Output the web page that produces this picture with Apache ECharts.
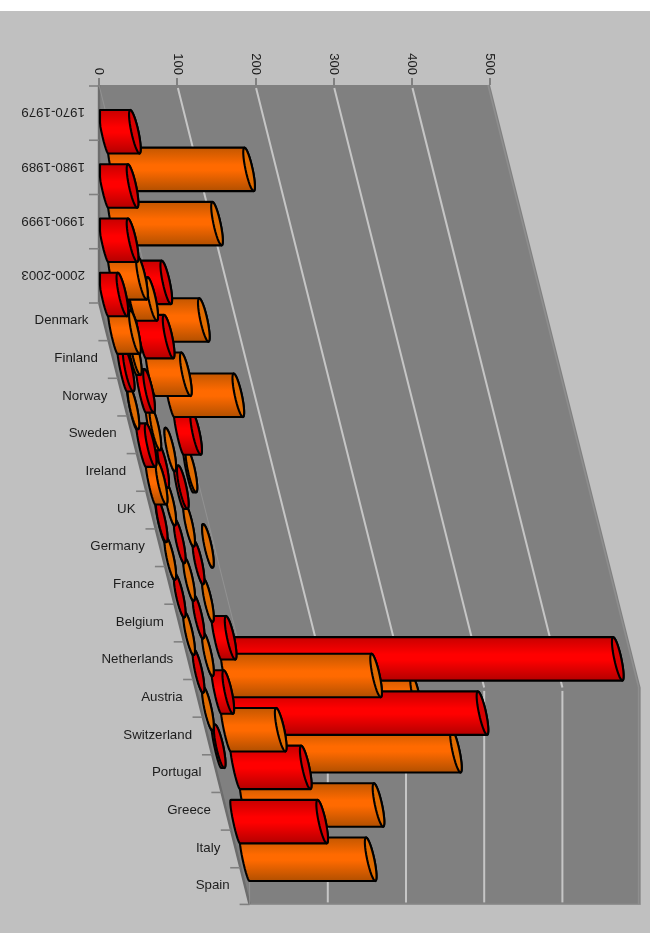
<!DOCTYPE html>
<html><head><meta charset="utf-8">
<style>html,body{margin:0;padding:0;background:#fff}#c{width:657px;height:933px}</style>
<script src="https://cdn.jsdelivr.net/npm/echarts@6/dist/echarts.min.js"></script>
</head><body><div id="c"></div>
<script>
const decades = ['1970-1979','1980-1989','1990-1999','2000-2003'];
const countries = ['Denmark','Finland','Norway','Sweden','Ireland','UK','Germany','France','Belgium','Netherlands','Austria','Switzerland','Portugal','Greece','Italy','Spain'];
const valueTicks = [0,100,200,300,400,500];
// values per country, one per decade (null = no bar)
const Denmark     = [40,37,37,24];
const Finland     = [174,133,37,28];
const Norway      = [10,8,8,8];
const Sweden      = [1,26,5,2];
const Ireland     = [32,35,10,12];
const UK          = [68,45,6,14];
const Germany     = [10,null,4,2];
const France      = [88,1,1,1];
const Belgium     = [22,5,1,1];
const Netherlands = [4,1,1,1];
const Austria     = [null,1,1,1];
const Switzerland = [1,1,1,1];
const Portugal    = [null,18,15,4];
const Greece      = [null,192,70,null];
const Italy       = [489,316,90,111];
const Spain       = [219,270,171,161];
const rows = [Denmark,Finland,Norway,Sweden,Ireland,UK,Germany,France,Belgium,Netherlands,Austria,Switzerland,Portugal,Greece,Italy,Spain];

const CSTEP=37.65, DSTEP=54.25, SKEW=0.25;
const DU=DSTEP/CSTEP, YMAX=820/CSTEP;
const rowPos=(d,c)=>d*DU+c;
function P(api,v,d,c){const p=api.coord([v,rowPos(d,c)]);return [p[0]+c*CSTEP*SKEW,p[1]];}

const barData=[];
for(let c=rows.length-1;c>=0;c--) rows[c].forEach((v,d)=>{ if(v!=null) barData.push([v,c,d]); });

const G=echarts.graphic;
const grad=(a,b,e)=>new G.LinearGradient(0,0,0,1,[{offset:0,color:a},{offset:.4,color:b},{offset:.52,color:b},{offset:1,color:e}]);
const redFill=grad('#c40000','#ff0000','#b00000'), orFill=grad('#c05600','#ff6a00','#ae4e00');

function wallItem(p,api){
  const pts=[P(api,0,0,0),P(api,500,0,0),P(api,500,0,16),P(api,500,4,16),P(api,0,4,16),P(api,0,4,0)];
  const line=(a,col,w)=>({type:'polyline',shape:{points:a},style:{fill:null,stroke:col,lineWidth:w}});
  return {type:'group',children:[
    {type:'polygon',shape:{points:pts},style:{fill:'#808080'}},
    line([P(api,0,0,0),P(api,0,4,0),P(api,0,4,16)],'#6c6c6c',2.4),
    line([P(api,0,0,0),P(api,0,0,16),P(api,0,4,16)],'#979797',0.8),
    line([[pts[1][0]-2,pts[1][1]],[pts[2][0]-2,pts[2][1]],[pts[3][0]-2,pts[3][1]]],'#8e8e8e',1.5),
    line([pts[3],pts[4]],'#919191',1.2)
  ]};
}
function gridItem(p,api){
  const v=api.value(0);
  if(v===0||v===500) return null;
  const a=P(api,v,0,0), b=P(api,v,0,16), e=P(api,v,4,16);
  const st={fill:null,stroke:'#c6c6c6',lineWidth:2};
  return {type:'group',children:[
    {type:'line',shape:{x1:a[0]+.7,y1:a[1]+3,x2:b[0],y2:b[1]},style:st},
    {type:'line',shape:{x1:b[0],y1:b[1]+3.5,x2:e[0],y2:e[1]-2},style:st}
  ]};
}
function ellipse(cx,cy,ax,ay,w,t0,t1,n){
  const o=[];for(let i=0;i<=n;i++){const t=t0+(t1-t0)*i/n;o.push([cx+ax*Math.sin(t)+w*Math.cos(t),cy+ay*Math.sin(t)]);}
  return o;
}
function barItem(p,api){
  const v=api.value(0),c=api.value(1),d=api.value(2);
  const o=P(api,0,d+25/DSTEP,c), e=P(api,v,d+25/DSTEP,c);
  const H=43.5,DX=9.2,W=3.6,PI2=Math.PI/2;
  const ax=DX/2, ay=H/2, cy=o[1]+ay, red=c%2===0;
  const minX=api.coord([0,0])[0]+1;
  const right=ellipse(e[0]+ax,cy,ax,ay,W,-PI2,PI2,18);
  const left=ellipse(o[0]+ax,cy,ax,ay,-2.2,PI2,-PI2,14).map(q=>[Math.max(q[0],minX),q[1]]);
  const cap=ellipse(e[0]+ax,cy,ax,ay,W,0,2*Math.PI,32);
  return {type:'group',children:[
    {type:'polygon',shape:{points:right.concat(left)},style:{fill:red?redFill:orFill,stroke:'#000',lineWidth:2.1,lineJoin:'round'}},
    {type:'polygon',shape:{points:cap},style:{fill:red?'#d80000':'#e06c00',stroke:'#000',lineWidth:2.1}}
  ]};
}
function catItem(p,api){
  const i=api.value(0);
  const tick=(y,x)=>({type:'line',shape:{x1:x-10,y1:y,x2:x,y2:y},style:{stroke:'#808080',lineWidth:1.6}});
  if(i<decades.length){
    const t=P(api,0,i,0), n=P(api,0,i+1,0);
    return {type:'group',children:[tick(t[1]+1,t[0]),
      {type:'text',x:t[0]-14,y:(t[1]+n[1])/2,rotation:Math.PI,originX:0,originY:0,
       style:{text:decades[i],x:0,y:0,align:'left',verticalAlign:'middle',font:'13.3px "Liberation Sans"',fill:'#1c1c1c'}}]};
  }
  const c=i-decades.length, t=P(api,0,4,c), n=P(api,0,4,c+1);
  const children=[tick(t[1]+1,t[0])];
  if(c===countries.length-1) children.push(tick(n[1],n[0]));
  children.push({type:'text',x:t[0]-10.5,y:(t[1]+n[1])/2,
      style:{text:countries[c],x:0,y:0,align:'right',verticalAlign:'middle',font:'13.3px "Liberation Sans"',fill:'#1c1c1c'}});
  return {type:'group',children};
}

const chart=echarts.init(document.getElementById('c'),null,{renderer:'canvas'});
chart.setOption({
  animation:false,backgroundColor:'#fff',
  graphic:[{type:'rect',z:-1,shape:{x:0,y:11,width:650,height:922},style:{fill:'#c0c0c0'}}],
  grid:{left:99,top:85,width:391,height:820,containLabel:false},
  xAxis:{type:'value',position:'top',min:0,max:500,interval:100,
    axisLine:{show:false},splitLine:{show:false},
    axisTick:{show:true,length:7,lineStyle:{color:'#808080',width:2}},
    axisLabel:{rotate:-90,margin:10,fontFamily:'Liberation Sans',fontSize:13,color:'#1c1c1c',customValues:valueTicks},z:5},
  yAxis:{type:'value',min:0,max:YMAX,inverse:true,show:false},
  tooltip:{show:false},
  series:[
    {type:'custom',name:'wall',silent:true,clip:false,z:1,data:[[0,0]],renderItem:wallItem,encode:{x:0,y:1}},
    {type:'custom',name:'grid',silent:true,clip:false,z:2,data:valueTicks.map(v=>[v,0]),renderItem:gridItem,encode:{x:0,y:1}},
    {type:'custom',name:'categories',silent:true,clip:false,z:3,data:decades.concat(countries).map((s,i)=>[i,0]),renderItem:catItem,encode:{x:0,y:1}},
    {type:'custom',name:'bars',silent:true,clip:false,z:4,data:barData,renderItem:barItem,encode:{x:0,y:1}}
  ]
});
</script></body></html>
